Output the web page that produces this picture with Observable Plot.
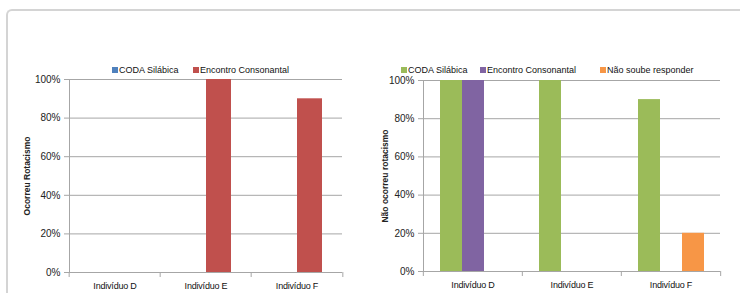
<!DOCTYPE html>
<html>
<head>
<meta charset="utf-8">
<script src="https://cdn.jsdelivr.net/npm/d3@7"></script>
<script src="https://cdn.jsdelivr.net/npm/@observablehq/plot@0.6"></script>
<style>
  html, body { margin: 0; padding: 0; background: #fff; }
  #page { position: relative; width: 740px; height: 293px; overflow: hidden; background: #fff;
    font-family: "Liberation Sans", Arial, sans-serif; }
  #frame { position: absolute; left: 6px; top: 9px; width: 760px; height: 300px;
    border-left: 2px solid #d4d4d4; border-top: 2px solid #d4d4d4; border-top-left-radius: 6px; }
  .chart { position: absolute; top: 75px; }
  .legend { position: absolute; top: 64px; height: 14px; font-size: 9px; color: #111; }
  .item { position: absolute; top: 0; white-space: nowrap; line-height: 12px; }
  .sw { display: inline-block; width: 6px; height: 6px; margin-right: 1px; vertical-align: 0px; }
  svg g[aria-label="y-axis label"] text { font-weight: bold; font-size: 8.5px; }
  svg g[aria-label="fx-axis tick label"] text { font-size: 9px; letter-spacing: -0.2px; }
</style>
</head>
<body>
<div id="page">
  <div id="frame"></div>
  <div id="legL" class="legend" style="left:0"></div>
  <div id="legR" class="legend" style="left:370px"></div>
  <div id="chartL" class="chart" style="left:0"></div>
  <div id="chartR" class="chart" style="left:370px"></div>
</div>
<script>
// ---- data ----
const categories = ["Indivíduo D", "Indivíduo E", "Indivíduo F"];
const yTicks = [0, 20, 40, 60, 80, 100];

const seriesLeft = ["CODA Silábica", "Encontro Consonantal"];
const colorsLeft = ["#4F81BD", "#C0504D"];
const leftCoda = [0, 0, 0];
const leftEncontro = [0, 100, 90];

const seriesRight = ["CODA Silábica", "Encontro Consonantal", "Não soube responder"];
const colorsRight = ["#9BBB59", "#8064A2", "#F79646"];
const rightCoda = [100, 100, 90];
const rightEncontro = [100, 0, 0];
const rightNaoSoube = [0, 0, 20];

const titleLeft = "Ocorreu Rotacismo";
const titleRight = "Não ocorreu rotacismo";

const grey = "#a6a6a6";

function makeChart({series, values, colors, width, height, mt, mb, ml, mr, label, labelOffset, pad}) {
  const data = [];
  series.forEach((s, i) => categories.forEach((c, j) => data.push({cat: c, series: s, value: values[i][j]})));
  const bw = (width - ml - mr) / categories.length;
  return Plot.plot({
    width, height,
    marginTop: mt, marginBottom: mb, marginLeft: ml, marginRight: mr,
    style: {fontFamily: '"Liberation Sans", Arial, sans-serif', fontSize: "10px", color: "#111", background: "transparent", overflow: "visible"},
    fx: {domain: categories, padding: 0, axis: null, label: null},
    x: {domain: series, paddingInner: 0, paddingOuter: pad, axis: null},
    y: {domain: [0, 100], axis: null},
    color: {domain: series, range: colors},
    marks: [
      Plot.gridY({ticks: yTicks.slice(1), stroke: grey, strokeOpacity: 1}),
      Plot.barY(data, {fx: "cat", x: "series", y: "value", fill: "series"}),
      Plot.ruleY([0], {stroke: grey}),
      Plot.frame({anchor: "left", stroke: grey, facetAnchor: "left"}),
      Plot.axisY({ticks: yTicks, tickFormat: d => d + "%", tickSize: 5, tickPadding: 4, stroke: grey, fill: "#222",
        label, labelAnchor: "center", labelOffset, labelArrow: "none"}),
      Plot.axisFx({anchor: "bottom", tickSize: 0, tickPadding: 10, label: null, fill: "#111"}),
      Plot.axisFx({anchor: "bottom", tickSize: 5, tickFormat: () => "", dx: -bw / 2, stroke: grey, label: null}),
      Plot.axisFx({anchor: "bottom", ticks: [categories[categories.length - 1]], tickSize: 5, tickFormat: () => "", dx: bw / 2, stroke: grey, label: null})
    ]
  });
}

document.getElementById("chartL").append(makeChart({
  series: seriesLeft, values: [leftCoda, leftEncontro], colors: colorsLeft,
  width: 370, height: 218, mt: 4, mb: 21, ml: 68, mr: 27, label: titleLeft, labelOffset: 46, pad: 0.76
}));
document.getElementById("chartR").append(makeChart({
  series: seriesRight, values: [rightCoda, rightEncontro, rightNaoSoube], colors: colorsRight,
  width: 370, height: 218, mt: 5, mb: 22, ml: 52, mr: 20, label: titleRight, labelOffset: 42, pad: 0.75
}));

function legend(el, series, colors, lefts) {
  series.forEach((s, i) => {
    const d = document.createElement("div");
    d.className = "item";
    d.style.left = lefts[i] + "px";
    const sw = document.createElement("span");
    sw.className = "sw";
    sw.style.background = colors[i];
    d.append(sw, document.createTextNode(s));
    el.append(d);
  });
}
legend(document.getElementById("legL"), seriesLeft, colorsLeft, [112, 193]);
legend(document.getElementById("legR"), seriesRight, colorsRight, [31, 110, 230]);
</script>
</body>
</html>
